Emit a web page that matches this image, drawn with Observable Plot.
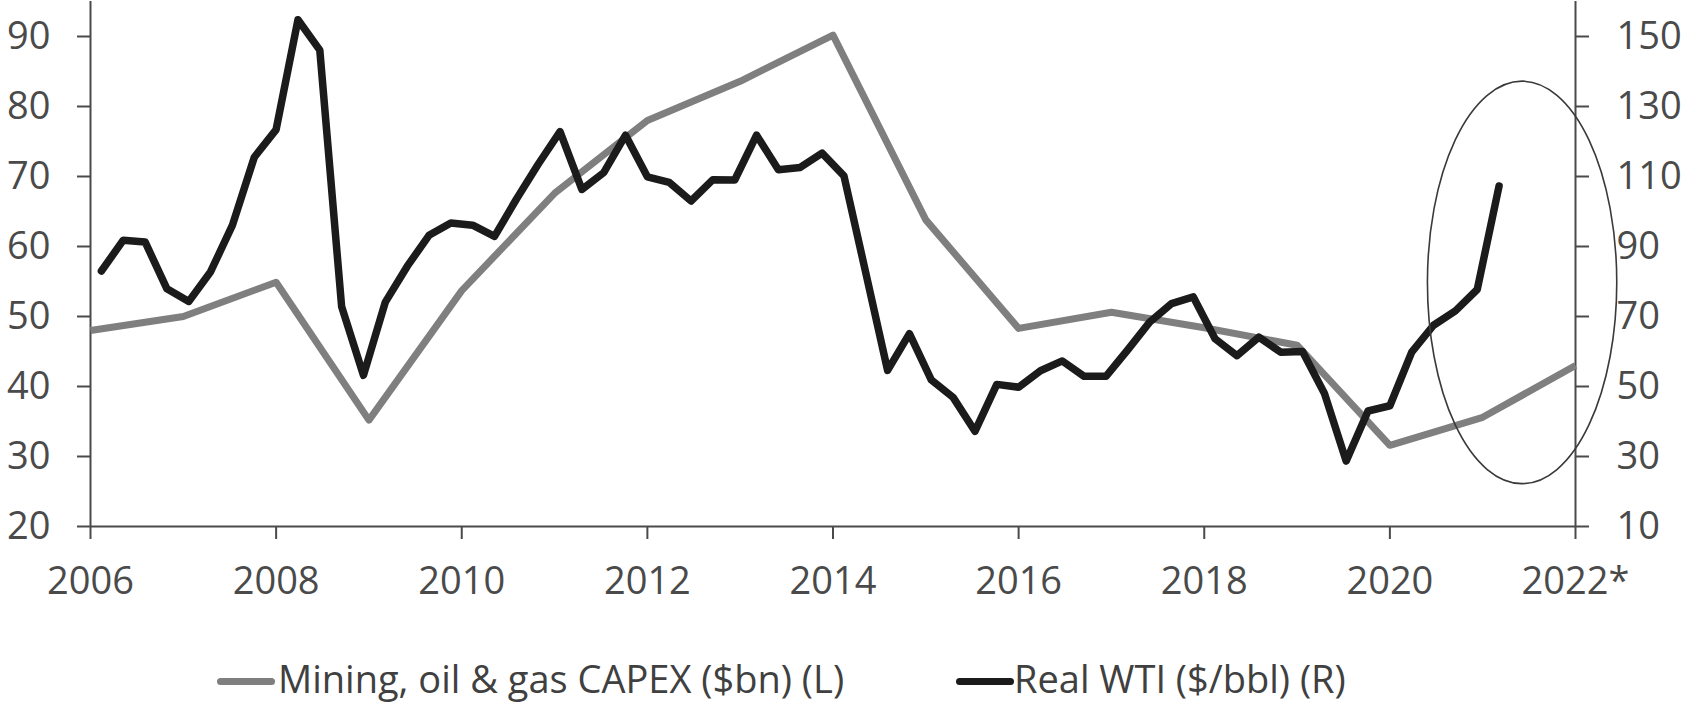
<!DOCTYPE html>
<html>
<head>
<meta charset="utf-8">
<script src="https://cdn.jsdelivr.net/npm/d3@7"></script>
<script src="https://cdn.jsdelivr.net/npm/@observablehq/plot@0.6"></script>
<style>
  html, body { margin: 0; padding: 0; background: #ffffff; }
  body { font-family: "Open Sans", sans-serif; width: 1691px; }
  #chart svg { display: block; }
  #legend { position: relative; height: 65px; font-size: 38px; color: #404040; }
  #legend .sw { position: absolute; top: 38px; height: 7px; border-radius: 3.5px; }
  #legend .lab { position: absolute; top: 19px; line-height: 38px; white-space: nowrap; }
</style>
</head>
<body>
<div id="chart"></div>
<div id="legend">
  <span class="sw" style="left:217px;width:58px;background:#7f7f7f"></span>
  <span class="lab" style="left:278px">Mining, oil &amp; gas CAPEX ($bn) (L)</span>
  <span class="sw" style="left:956px;width:58px;background:#1b1b1b"></span>
  <span class="lab" style="left:1014px">Real WTI ($/bbl) (R)</span>
</div>
<script>
// ---- Data ----
// Mining, oil & gas CAPEX ($bn), annual, left axis
const capexYears  = [2006, 2007, 2008, 2009, 2010, 2011, 2012, 2013, 2014, 2015, 2016, 2017, 2018, 2019, 2020, 2021, 2022];
const capexValues = [48.0, 50.0, 54.9, 35.2, 53.7, 67.6, 78.0, 83.6, 90.2, 63.8, 48.3, 50.6, 48.4, 45.9, 31.6, 35.6, 43.0];

// Real WTI ($/bbl), quarterly from 2006Q1 to 2022Q1, right axis
const wtiFirstYear = 2006;
const wtiValues = [
  83.0, 91.8, 91.3, 77.9,      // 2006
  74.3, 82.8, 96.1, 115.5,     // 2007
  123.4, 154.8, 146.1, 72.8,   // 2008
  53.2, 74.1, 84.3, 93.2,      // 2009
  96.7, 96.1, 92.9, 103.5,     // 2010
  113.5, 122.8, 106.3, 111.1,  // 2011
  121.8, 109.9, 108.3, 103.0,  // 2012
  109.1, 109.0, 121.8, 111.9,  // 2013
  112.6, 116.7, 110.2, 82.5,   // 2014
  54.6, 65.1, 51.9, 46.9,      // 2015
  37.2, 50.6, 49.8, 54.5,      // 2016
  57.3, 52.9, 52.9, 60.5,      // 2017
  68.4, 73.7, 75.6, 63.6,      // 2018
  58.8, 64.1, 59.8, 60.0,      // 2019
  48.1, 28.7, 43.0, 44.5,      // 2020
  59.8, 67.5, 71.6, 77.7,      // 2021
  107.3                        // 2022Q1
];

// Axes
const xTickYears  = [2006, 2008, 2010, 2012, 2014, 2016, 2018, 2020, 2022];
const xTickLabels = ["2006", "2008", "2010", "2012", "2014", "2016", "2018", "2020", "2022*"];
const leftDomain  = [20, 95];
const rightDomain = [10, 160];
const leftTicks   = [20, 30, 40, 50, 60, 70, 80, 90];
const rightTicks  = [10, 30, 50, 70, 90, 110, 130, 150];

// Annotation ellipse (centre year, centre left-axis value, half-width in years, half-height in left units)
const ellipseSpec = {year: 2021.43, value: 54.8, halfYears: 1.02, halfValue: 28.75};

// ---- Build tables ----
const capex = capexYears.map((year, i) => ({year, value: capexValues[i]}));
// WTI sits on a secondary category axis of 68 quarterly slots (2006Q1..2022Q4)
// spread across the same 2006..2022 span, each point centred in its slot.
const slots = 68;
const span = xTickYears[xTickYears.length - 1] - xTickYears[0];
const toLeft = r => leftDomain[0] + (r - rightDomain[0]) * (leftDomain[1] - leftDomain[0]) / (rightDomain[1] - rightDomain[0]);
const wti = wtiValues.map((v, i) => ({
  quarter: `${wtiFirstYear + Math.floor(i / 4)}Q${(i % 4) + 1}`,
  x: xTickYears[0] + (i + 0.5) * span / slots,
  value: v,
  left: toLeft(v)
}));

const axisColor = "#4a4a4a";

const plot = Plot.plot({
  width: 1691,
  height: 640,
  marginLeft: 90,
  marginRight: 116,
  marginTop: 1,
  marginBottom: 114,
  style: {fontFamily: '"Open Sans", sans-serif', fontSize: "38px", color: axisColor, background: "#ffffff", overflow: "visible"},
  x: {domain: [xTickYears[0], xTickYears[xTickYears.length - 1]], axis: null},
  y: {domain: leftDomain, axis: null},
  marks: [
    Plot.ruleY([leftDomain[0]], {stroke: axisColor, strokeWidth: 2}),
    Plot.ruleX([xTickYears[0], xTickYears[xTickYears.length - 1]], {stroke: axisColor, strokeWidth: 2}),
    Plot.axisY(leftTicks, {anchor: "left", tickSize: 13, tickPadding: 27, strokeWidth: 2, color: axisColor, fontSize: 38, tickFormat: d => String(d)}),
    Plot.axisY(leftTicks, {anchor: "right", tickSize: 13, tickPadding: 28, strokeWidth: 2, color: axisColor, fontSize: 38, tickFormat: d => String(rightTicks[leftTicks.indexOf(d)])}),
    Plot.axisX(xTickYears, {anchor: "bottom", tickSize: 13, tickPadding: 28, strokeWidth: 2, color: axisColor, fontSize: 38, tickFormat: d => xTickLabels[xTickYears.indexOf(d)]}),
    Plot.line(capex, {x: "year", y: "value", stroke: "#7f7f7f", strokeWidth: 7, strokeLinejoin: "round", strokeLinecap: "butt"}),
    Plot.line(wti, {x: "x", y: "left", stroke: "#1b1b1b", strokeWidth: 7.5, strokeLinejoin: "round", strokeLinecap: "round"})
  ]
});

document.getElementById("chart").appendChild(plot);

// Ellipse annotation through the plot's own scales
const xs = plot.scale("x"), ys = plot.scale("y");
const cx = xs.apply(ellipseSpec.year);
const cy = ys.apply(ellipseSpec.value);
const rx = Math.abs(xs.apply(ellipseSpec.year + ellipseSpec.halfYears) - cx);
const ry = Math.abs(ys.apply(ellipseSpec.value + ellipseSpec.halfValue) - cy);
d3.select(plot).append("ellipse")
  .attr("cx", cx).attr("cy", cy).attr("rx", rx).attr("ry", ry)
  .attr("fill", "none").attr("stroke", "#3a3a3a").attr("stroke-width", 1.6);
</script>
</body>
</html>
